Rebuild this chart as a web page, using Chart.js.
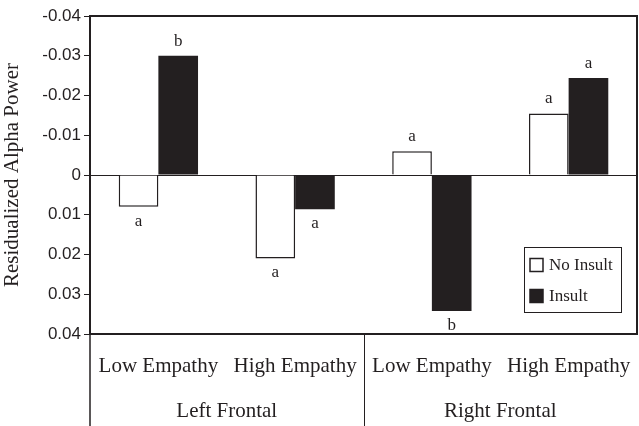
<!DOCTYPE html>
<html>
<head>
<meta charset="utf-8">
<script src="https://cdn.jsdelivr.net/npm/chart.js@4"></script>
<style>
  html, body { margin: 0; padding: 0; background: #fff; }
  #wrap { width: 639px; height: 426px; }
</style>
</head>
<body>
<div id="wrap"><canvas id="alphaChart"></canvas></div>
<script>
// data (axis is reversed: negative values go up)
var categories = ['Low Empathy', 'High Empathy', 'Low Empathy', 'High Empathy'];
var regions = ['Left Frontal', 'Right Frontal'];
var noInsult = [0.008, 0.021, -0.006, -0.0155];
var insult = [-0.030, 0.0086, 0.0342, -0.0244];
var noInsultLetters = ['a', 'a', 'a', 'a'];
var insultLetters = ['b', 'a', 'b', 'a'];

var ink = '#231f20';
var serif = "'Liberation Serif', 'Times New Roman', serif";
var sans = "'Liberation Sans', Arial, sans-serif";

// a / b letters at the end of every bar
var letterPlugin = {
  id: 'letters',
  afterDatasetsDraw: function (chart) {
    var c = chart.ctx;
    var sets = [noInsultLetters, insultLetters];
    c.save();
    c.fillStyle = ink;
    c.font = '17px ' + serif;
    c.textAlign = 'center';
    chart.data.datasets.forEach(function (ds, di) {
      chart.getDatasetMeta(di).data.forEach(function (bar, i) {
        var v = ds.data[i];
        if (v < 0) {
          c.textBaseline = 'bottom';
          c.fillText(sets[di][i], bar.x, bar.y - 6);
        } else {
          c.textBaseline = 'top';
          c.fillText(sets[di][i], bar.x, bar.y + 6);
        }
      });
    });
    c.restore();
  }
};

// plot frame, group dividers and the boxed legend
var framePlugin = {
  id: 'frame',
  afterDraw: function (chart) {
    var c = chart.ctx;
    var a = chart.chartArea;
    var xs = chart.scales.x;
    c.save();
    c.strokeStyle = ink;
    c.lineWidth = 2;
    c.strokeRect(a.left, a.top, a.right - a.left, a.bottom - a.top);

    var mid = (xs.getPixelForValue(1) + xs.getPixelForValue(2)) / 2;
    c.lineWidth = 1.5;
    c.beginPath();
    c.moveTo(a.left, a.bottom);
    c.lineTo(a.left, chart.height);
    c.stroke();
    c.lineWidth = 1;
    c.beginPath();
    c.moveTo(Math.round(mid) + 0.5, a.bottom);
    c.lineTo(Math.round(mid) + 0.5, chart.height);
    c.stroke();

    // legend box
    var bx = a.right - 113, by = a.top + 231, bw = 97, bh = 65;
    c.fillStyle = '#fff';
    c.fillRect(bx, by, bw, bh);
    c.lineWidth = 1;
    c.strokeRect(bx + 0.5, by + 0.5, bw, bh);
    c.font = '17px ' + serif;
    c.textBaseline = 'middle';
    c.textAlign = 'left';
    chart.data.datasets.forEach(function (ds, di) {
      var cy = by + 18 + di * 31;
      c.fillStyle = ds.backgroundColor;
      c.fillRect(bx + 6, cy - 6.5, 13, 13);
      c.strokeStyle = ink;
      c.lineWidth = 1.5;
      c.strokeRect(bx + 6, cy - 6.5, 13, 13);
      c.fillStyle = ink;
      c.fillText(ds.label, bx + 25, cy + 1);
    });
    c.restore();
  }
};

var ctx = document.getElementById('alphaChart');

var alphaChart = new Chart(ctx, {
  type: 'bar',
  data: {
    labels: categories,
    datasets: [{
      label: 'No Insult',
      data: noInsult,
      backgroundColor: '#ffffff',
      borderColor: ink,
      borderWidth: 1.5,
      xAxisID: 'x'
    }, {
      label: 'Insult',
      data: insult,
      backgroundColor: ink,
      borderColor: ink,
      borderWidth: 0,
      xAxisID: 'x'
    }]
  },
  options: {
    responsive: true,
    maintainAspectRatio: false,
    animation: false,
    layout: { padding: { top: 16, right: 2, left: 0, bottom: 0 } },
    datasets: {
      bar: { categoryPercentage: 0.58, barPercentage: 1.0 }
    },
    scales: {
      y: {
        reverse: true,
        min: -0.04,
        max: 0.04,
        ticks: {
          stepSize: 0.01,
          color: ink,
          font: { family: sans, size: 17 },
          padding: 3,
          callback: function (v) {
            return Math.abs(v) < 1e-9 ? '0' : Number(v).toFixed(2);
          }
        },
        grid: {
          color: function (c) {
            return c.tick && Math.abs(c.tick.value) < 1e-9 ? ink : 'rgba(0,0,0,0)';
          },
          tickColor: ink,
          tickLength: 6,
          lineWidth: 1
        },
        border: { display: true, color: ink, width: 2 },
        title: {
          display: true,
          text: 'Residualized Alpha Power',
          color: ink,
          font: { family: serif, size: 21 },
          padding: { top: 0, bottom: 4 }
        },
        afterFit: function (s) { s.width = 90; }
      },
      x: {
        weight: 0,
        grid: {
          display: true,
          drawOnChartArea: false,
          drawTicks: true,
          tickLength: 19,
          color: 'rgba(0,0,0,0)',
          tickColor: 'rgba(0,0,0,0)'
        },
        border: { display: false },
        ticks: {
          color: ink,
          font: { family: serif, size: 21 },
          padding: 1,
          maxRotation: 0,
          autoSkip: false
        },
        afterFit: function (s) { s.height = 52; }
      },
      x2: {
        type: 'category',
        position: 'bottom',
        weight: 1,
        labels: regions,
        offset: true,
        grid: {
          display: true,
          drawOnChartArea: false,
          drawTicks: true,
          tickLength: 12,
          color: 'rgba(0,0,0,0)',
          tickColor: 'rgba(0,0,0,0)'
        },
        border: { display: false },
        ticks: {
          color: ink,
          font: { family: serif, size: 21 },
          padding: 1,
          maxRotation: 0
        },
        afterFit: function (s) { s.height = 40; }
      }
    },
    plugins: {
      legend: { display: false },
      tooltip: { enabled: false }
    }
  },
  plugins: [letterPlugin, framePlugin]
});
</script>
</body>
</html>
